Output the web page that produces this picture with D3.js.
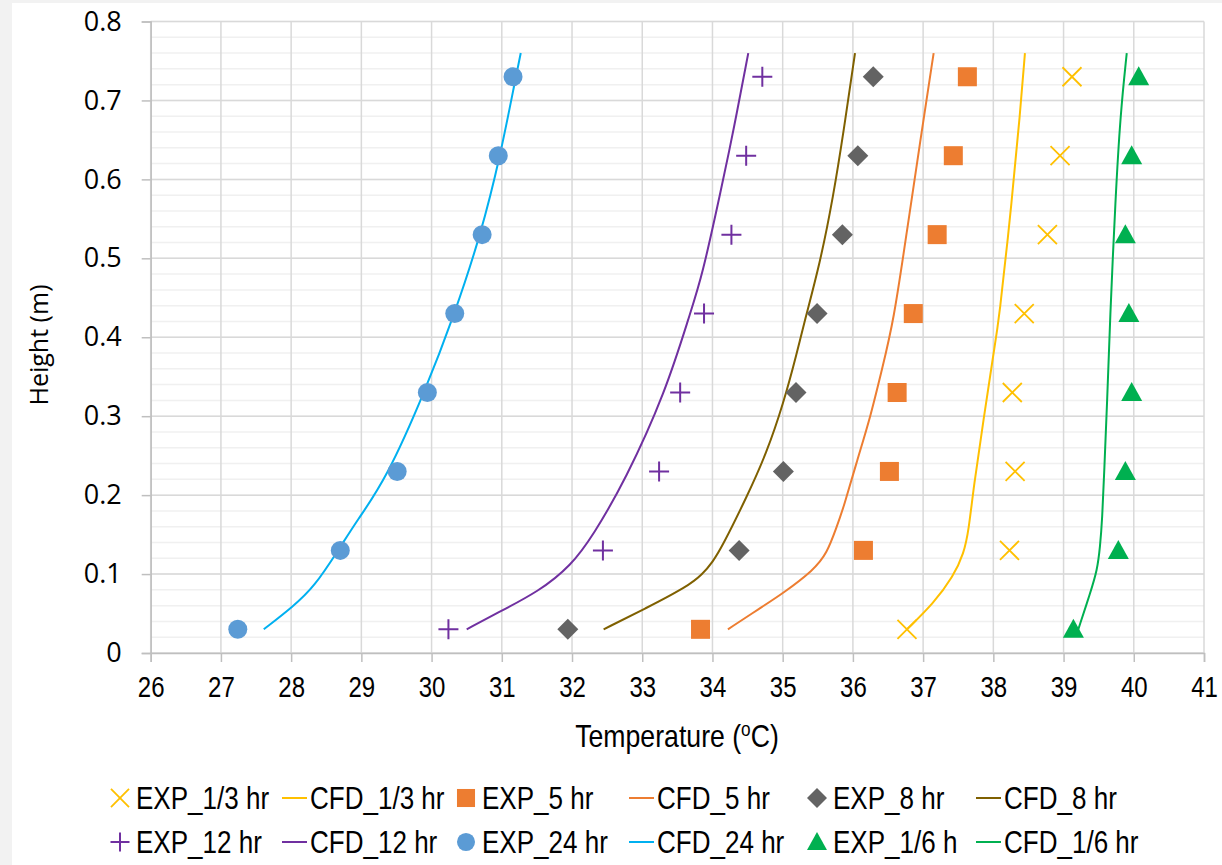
<!DOCTYPE html>
<html>
<head>
<meta charset="utf-8">
<script src="https://cdn.jsdelivr.net/npm/d3@7"></script>
<style>
  html, body { margin: 0; padding: 0; background: #f2f2f2; }
  svg { display: block; }
  .narrow { font-family: "Liberation Sans", Arial, sans-serif; }
  .wide { font-family: "Open Sans", "Noto Sans", sans-serif; }
</style>
</head>
<body>
<svg id="chart" width="1222" height="865"></svg>
<script>
// Measured heights (m) of the experimental probes
const expHeights = [0.03, 0.13, 0.23, 0.33, 0.43, 0.53, 0.63, 0.73];

// Experimental temperatures (°C) at each probe height
const exp13 = [36.77, 38.23, 38.31, 38.27, 38.44, 38.77, 38.95, 39.12];
const exp5  = [33.83, 36.15, 36.52, 36.63, 36.86, 37.20, 37.43, 37.63];
const exp8  = [31.94, 34.38, 35.01, 35.19, 35.49, 35.85, 36.07, 36.29];
const exp12 = [30.24, 32.44, 33.24, 33.54, 33.88, 34.27, 34.48, 34.71];
const exp24 = [27.24, 28.70, 29.51, 29.94, 30.33, 30.72, 30.95, 31.16];
const exp16 = [39.14, 39.78, 39.88, 39.97, 39.93, 39.88, 39.97, 40.07];

// CFD profiles as [height (m), temperature (°C)]
const cfd13 = [[0.03,36.77],[0.063,37.15],[0.097,37.43],[0.126,37.58],[0.156,37.65],[0.211,37.72],[0.295,37.86],[0.379,38.00],[0.42,38.08],[0.578,38.27],[0.683,38.38],[0.76,38.45]];
const cfd5  = [[0.03,34.22],[0.057,34.68],[0.076,35.01],[0.105,35.44],[0.126,35.63],[0.16,35.77],[0.185,35.87],[0.244,36.06],[0.299,36.25],[0.358,36.41],[0.42,36.58],[0.535,36.77],[0.649,36.96],[0.76,37.15]];
const cfd8  = [[0.03,32.45],[0.057,33.06],[0.084,33.64],[0.1,33.86],[0.115,34.0],[0.135,34.14],[0.198,34.49],[0.253,34.77],[0.316,35.01],[0.379,35.20],[0.42,35.31],[0.493,35.53],[0.578,35.72],[0.662,35.87],[0.76,36.03]];
const cfd12 = [[0.03,30.50],[0.05,30.92],[0.078,31.53],[0.111,31.99],[0.149,32.30],[0.219,32.76],[0.33,33.33],[0.43,33.68],[0.476,33.85],[0.59,34.13],[0.662,34.30],[0.76,34.51]];
const cfd24 = [[0.03,27.61],[0.059,28.03],[0.084,28.33],[0.13,28.67],[0.168,28.94],[0.22,29.35],[0.33,29.90],[0.43,30.33],[0.53,30.70],[0.63,30.98],[0.73,31.20],[0.76,31.27]];
const cfd16 = [[0.03,39.21],[0.076,39.38],[0.105,39.48],[0.135,39.52],[0.168,39.55],[0.232,39.58],[0.316,39.62],[0.42,39.66],[0.578,39.74],[0.683,39.81],[0.76,39.90]];

// Axis ticks
const xTicks = d3.range(26, 42, 1);
const yTicks = [0, 0.1, 0.2, 0.3, 0.4, 0.5, 0.6, 0.7, 0.8];
const yMinorTicks = d3.range(0, 0.8001, 0.02);

// Series definitions (legend order)
const series = [
  { name: "EXP_1/3 hr", type: "exp", marker: "times",    color: "#FFC000", values: exp13 },
  { name: "CFD_1/3 hr", type: "cfd", color: "#FFC000", values: cfd13 },
  { name: "EXP_5 hr",   type: "exp", marker: "square",   color: "#ED7D31", values: exp5 },
  { name: "CFD_5 hr",   type: "cfd", color: "#ED7D31", values: cfd5 },
  { name: "EXP_8 hr",   type: "exp", marker: "diamond",  color: "#636363", values: exp8 },
  { name: "CFD_8 hr",   type: "cfd", color: "#7F6000", values: cfd8 },
  { name: "EXP_12 hr",  type: "exp", marker: "plus",     color: "#7030A0", values: exp12 },
  { name: "CFD_12 hr",  type: "cfd", color: "#7030A0", values: cfd12 },
  { name: "EXP_24 hr",  type: "exp", marker: "circle",   color: "#5B9BD5", values: exp24 },
  { name: "CFD_24 hr",  type: "cfd", color: "#00B0F0", values: cfd24 },
  { name: "EXP_1/6 h",  type: "exp", marker: "triangle", color: "#00B050", values: exp16 },
  { name: "CFD_1/6 hr", type: "cfd", color: "#00B050", values: cfd16 }
];

const svg = d3.select("#chart");

// White chart area
svg.append("rect").attr("x", 12).attr("y", 3).attr("width", 1210).attr("height", 862).attr("fill", "#ffffff");

const x = d3.scaleLinear().domain([26, 41]).range([150.7, 1204]);
const y = d3.scaleLinear().domain([0, 0.8]).range([653, 21.5]);

// Minor horizontal gridlines
svg.append("g").selectAll("line").data(yMinorTicks).join("line")
  .attr("x1", x(26)).attr("x2", x(41))
  .attr("y1", d => y(d)).attr("y2", d => y(d))
  .attr("stroke", "#f0f0f0").attr("stroke-width", 1.5);

// Major gridlines
svg.append("g").selectAll("line").data(yTicks).join("line")
  .attr("x1", x(26)).attr("x2", x(41))
  .attr("y1", d => y(d)).attr("y2", d => y(d))
  .attr("stroke", "#d9d9d9").attr("stroke-width", 1.5);
svg.append("g").selectAll("line").data(xTicks).join("line")
  .attr("x1", d => x(d)).attr("x2", d => x(d))
  .attr("y1", y(0)).attr("y2", y(0.8))
  .attr("stroke", "#d9d9d9").attr("stroke-width", 1.5);

// Axes
const xAxis = d3.axisBottom(x).tickValues(xTicks).tickSize(9).tickPadding(14).tickFormat(d3.format("d"));
const gx = svg.append("g").attr("transform", `translate(0,${y(0)})`).call(xAxis);
gx.select(".domain").attr("stroke", "#bfbfbf").attr("stroke-width", 1.5);
gx.selectAll(".tick line").attr("stroke", "#bfbfbf").attr("stroke-width", 1.5);
gx.selectAll(".tick text").attr("class", "narrow").attr("font-size", 30).attr("fill", "#000")
  .attr("transform", "scale(0.8,1)");

const yAxis = d3.axisLeft(y).tickValues(yTicks).tickSize(9).tickPadding(20).tickFormat(d => d === 0 ? "0" : d3.format(".1f")(d));
const gy = svg.append("g").attr("transform", `translate(${x(26)},0)`).call(yAxis);
gy.select(".domain").attr("stroke", "#bfbfbf").attr("stroke-width", 1.5);
gy.selectAll(".tick line").attr("stroke", "#bfbfbf").attr("stroke-width", 1.5);
gy.selectAll(".tick text").attr("class", "wide").attr("font-size", 27).attr("fill", "#000");

// Axis titles
const xt = svg.append("g").attr("transform", "translate(677,747) scale(0.86,1)")
  .append("text").attr("class", "narrow")
  .attr("text-anchor", "middle").attr("font-size", 31).attr("fill", "#000");
xt.append("tspan").text("Temperature (");
xt.append("tspan").attr("baseline-shift", "super").attr("font-size", 20).text("o");
xt.append("tspan").text("C)");

svg.append("text").attr("class", "wide").attr("transform", "translate(48,345) rotate(-90)")
  .attr("text-anchor", "middle").attr("font-size", 25).attr("fill", "#000").text("Height (m)");

// Markers
function drawMarker(g, kind, color, cx, cy, scale) {
  const s = scale || 1;
  if (kind === "circle") {
    g.append("circle").attr("cx", cx).attr("cy", cy).attr("r", 9.5 * s).attr("fill", color);
  } else if (kind === "square") {
    g.append("rect").attr("x", cx - 9.5 * s).attr("y", cy - 9.5 * s).attr("width", 19 * s).attr("height", 19 * s).attr("fill", color);
  } else if (kind === "diamond") {
    const r = 10.5 * s;
    g.append("path").attr("d", `M${cx},${cy - r}L${cx + r},${cy}L${cx},${cy + r}L${cx - r},${cy}Z`).attr("fill", color);
  } else if (kind === "triangle") {
    const w = 10.5 * s, h = 19 * s;
    g.append("path").attr("d", `M${cx},${cy - h * 0.55}L${cx + w},${cy + h * 0.45}L${cx - w},${cy + h * 0.45}Z`).attr("fill", color);
  } else if (kind === "times") {
    const r = 9.5 * s;
    g.append("path").attr("d", `M${cx - r},${cy - r}L${cx + r},${cy + r}M${cx - r},${cy + r}L${cx + r},${cy - r}`)
      .attr("stroke", color).attr("stroke-width", 1.8).attr("fill", "none");
  } else if (kind === "plus") {
    const r = 10 * s;
    g.append("path").attr("d", `M${cx - r},${cy}L${cx + r},${cy}M${cx},${cy - r}L${cx},${cy + r}`)
      .attr("stroke", color).attr("stroke-width", 2).attr("fill", "none");
  }
}

const line = d3.line()
  .x(d => x(d[1]))
  .y(d => y(d[0]))
  .curve(d3.curveBasis);

const plot = svg.append("g");
// CFD curves first, then experimental markers on top
series.filter(s => s.type === "cfd").forEach(s => {
  plot.append("path").datum(s.values).attr("d", line)
    .attr("fill", "none").attr("stroke", s.color).attr("stroke-width", 2);
});
series.filter(s => s.type === "exp").forEach(s => {
  const g = plot.append("g");
  s.values.forEach((t, i) => drawMarker(g, s.marker, s.color, x(t), y(expHeights[i])));
});

// Legend: two rows of six entries
const legend = svg.append("g");
const colX = [120, 294, 466, 641, 817, 988];
const rowY = [798, 842];
series.forEach((s, i) => {
  const row = Math.floor(i / 6), col = i % 6;
  const cx = colX[col], cy = rowY[row];
  if (s.type === "exp") {
    drawMarker(legend, s.marker, s.color, cx, cy, 0.95);
  } else {
    legend.append("line").attr("x1", cx - 12).attr("x2", cx + 13).attr("y1", cy).attr("y2", cy)
      .attr("stroke", s.color).attr("stroke-width", 2);
  }
  legend.append("g").attr("transform", `translate(${cx + 16},${cy + 11}) scale(0.84,1)`)
    .append("text").attr("class", "narrow")
    .attr("font-size", 31).attr("fill", "#000").text(s.name);
});
</script>
</body>
</html>
